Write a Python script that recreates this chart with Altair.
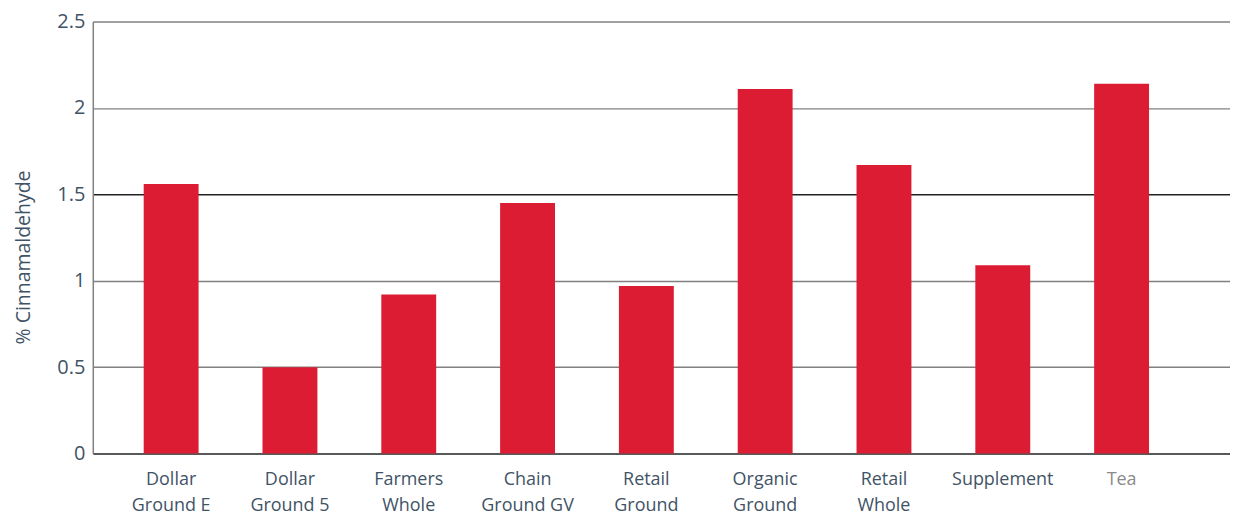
import altair as alt
import pandas as pd

categories = ["Dollar|Ground E", "Dollar|Ground 5", "Farmers|Whole", "Chain|Ground GV",
              "Retail|Ground", "Organic|Ground", "Retail|Whole", "Supplement", "Tea"]
values = [1.56, 0.50, 0.92, 1.45, 0.97, 2.11, 1.67, 1.09, 2.14]
y_ticks = [0, 0.5, 1, 1.5, 2, 2.5]

df = pd.DataFrame({"cat": categories, "val": values})

FONT = "Open Sans"
TXT = "#3f5366"

chart = alt.Chart(df).mark_bar(color="#dc1c33").encode(
    x=alt.X("cat:N", sort=categories, title=None,
            scale=alt.Scale(paddingInner=0.538, paddingOuter=0.555, align=0.386),
            axis=alt.Axis(labelAngle=0, labelExpr="split(datum.label, '|')",
                          labelFont=FONT, labelFontSize=18, labelLineHeight=26,
                          labelColor=alt.expr("datum.value == 'Tea' ? '#8a8a8a' : '#3f5366'"),
                          labelPadding=17, ticks=False, domain=False, labelBaseline="top")),
    y=alt.Y("val:Q", title="% Cinnamaldehyde",
            scale=alt.Scale(domain=[0, 2.5], nice=False),
            axis=alt.Axis(values=y_ticks, labelExpr="format(datum.value, '~g')",
                          labelFont=FONT, labelFontSize=20, labelColor=TXT,
                          labelPadding=8, ticks=False, domain=True, domainColor="#808080",
                          domainWidth=1.5,
                          grid=True,
                          gridColor=alt.expr("datum.value == 1.5 || datum.value == 0 ? '#222222' : '#808080'"),
                          gridWidth=1.5,
                          titleFont=FONT, titleFontSize=19.5, titleFontWeight="normal",
                          titleColor=TXT, titlePadding=23, titleY=236)),
).properties(
    width=1140, height=433,
    autosize=alt.AutoSizeParams(type="none"),
    padding={"left": 85, "top": 13, "right": 0, "bottom": 62},
).configure_view(stroke=None)

chart.save("out.html", embed_options={"renderer": "svg", "actions": False})
